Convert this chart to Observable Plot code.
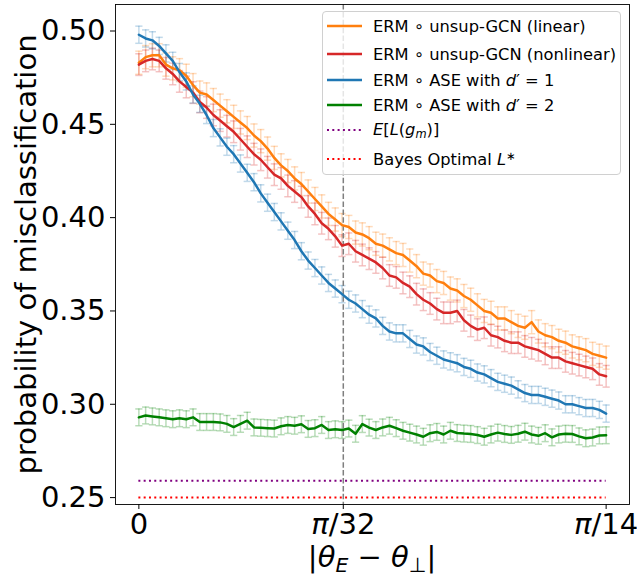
<!DOCTYPE html>
<html><head><meta charset="utf-8">
<script src="https://cdn.jsdelivr.net/npm/d3@7"></script>
<script src="https://cdn.jsdelivr.net/npm/@observablehq/plot@0.6"></script>
<style>
body{margin:0;background:#fff;font-family:"DejaVu Sans",sans-serif;}
#wrap{position:relative;width:637px;height:577px;}
#legend{position:absolute;left:322px;top:11px;width:299px;height:164px;box-sizing:border-box;border:1px solid #d0d0d0;border-radius:4px;background:rgba(255,255,255,0.8);font-size:16.3px;color:#000;}
.row{position:absolute;left:4px;height:20px;display:flex;align-items:center;white-space:nowrap;}
.row svg{margin-right:11px;}
#xlabel{position:absolute;left:0;width:637px;top:540px;font-size:29px;line-height:34px;color:#000;}
#xlabel span.c{position:absolute;left:372px;transform:translateX(-50%);white-space:nowrap;}
i{font-style:oblique;}
sub{font-size:0.7em;vertical-align:-0.25em;}
sup{font-size:0.7em;vertical-align:0.45em;}
</style>
</head><body>
<div id="wrap"><div id="chart"></div>
<div id="legend"></div>
<div id="xlabel"><span class="c">|<i>θ</i><sub><i>E</i></sub> − <i>θ</i><sub>⊥</sub>|</span></div>
</div>
<script>
const N = 70;
const xMax = Math.PI / 14;
const xTicks = [0, Math.PI / 32, Math.PI / 14];
const xTickLabels = ["0", "π/32", "π/14"];
const yTicks = [0.25, 0.30, 0.35, 0.40, 0.45, 0.50];
const vlineX = Math.PI / 32;

const orangeVals = [0.483,0.486,0.487,0.487,0.482,0.480,0.479,0.476,0.471,0.467,
0.466,0.463,0.460,0.457,0.454,0.451,0.448,0.444,0.441,0.437,
0.432,0.428,0.425,0.421,0.418,0.414,0.410,0.406,0.402,0.399,
0.396,0.395,0.392,0.391,0.389,0.386,0.385,0.383,0.381,0.380,
0.377,0.374,0.370,0.369,0.366,0.365,0.362,0.361,0.358,0.356,
0.353,0.350,0.349,0.346,0.346,0.344,0.342,0.341,0.344,0.339,
0.337,0.336,0.334,0.333,0.331,0.330,0.329,0.327,0.326,0.325];
const redVals = [0.482,0.484,0.485,0.484,0.480,0.477,0.473,0.470,0.467,0.462,
0.459,0.455,0.452,0.449,0.446,0.442,0.438,0.434,0.431,0.427,
0.423,0.421,0.417,0.414,0.411,0.406,0.402,0.397,0.394,0.390,
0.385,0.386,0.382,0.380,0.378,0.376,0.373,0.369,0.368,0.365,
0.363,0.359,0.356,0.354,0.351,0.349,0.349,0.350,0.345,0.342,
0.340,0.341,0.337,0.336,0.334,0.333,0.333,0.331,0.330,0.329,
0.327,0.325,0.325,0.323,0.322,0.321,0.320,0.319,0.316,0.315];
const blueVals = [0.498,0.496,0.495,0.492,0.488,0.484,0.478,0.473,0.466,0.461,
0.455,0.448,0.443,0.438,0.434,0.429,0.424,0.419,0.413,0.408,
0.403,0.398,0.393,0.388,0.382,0.377,0.373,0.369,0.365,0.362,
0.359,0.356,0.354,0.351,0.348,0.346,0.342,0.339,0.338,0.338,
0.335,0.332,0.331,0.328,0.326,0.324,0.323,0.322,0.320,0.319,
0.317,0.316,0.314,0.312,0.311,0.310,0.308,0.306,0.305,0.305,
0.304,0.303,0.302,0.300,0.300,0.299,0.298,0.298,0.297,0.295];
const greenVals = [0.2930,0.2940,0.2935,0.2930,0.2925,0.2920,0.2925,0.2920,0.2930,0.2905,
0.2905,0.2905,0.2903,0.2895,0.2878,0.2895,0.2912,0.2876,0.2874,0.2872,
0.2870,0.2882,0.2889,0.2885,0.2893,0.2868,0.2872,0.2889,0.2862,0.2866,
0.2862,0.2870,0.2842,0.2894,0.2875,0.2862,0.2876,0.2885,0.2872,0.2858,
0.2848,0.2838,0.2826,0.2845,0.2852,0.2838,0.2858,0.2846,0.2843,0.2841,
0.2835,0.2826,0.2838,0.2848,0.2841,0.2836,0.2842,0.2853,0.2838,0.2831,
0.2845,0.2823,0.2838,0.2842,0.2841,0.2828,0.2818,0.2822,0.2833,0.2834];

const seriesNames = ["linear", "nonlinear", "ase1", "ase2"];
const seriesColors = ["#ff7f0e", "#d62728", "#1f77b4", "#008000"];
const seriesErr = [0.0062, 0.0058, 0.0046, 0.0045];
const seriesVals = [orangeVals, redVals, blueVals, greenVals];

const hlineValues = [0.259, 0.25];
const hlineColors = ["purple", "red"];

const legendLabels = [
  "ERM ∘ unsup-GCN (linear)",
  "ERM ∘ unsup-GCN (nonlinear)",
  "ERM ∘ ASE with <i>d</i>′ = 1",
  "ERM ∘ ASE with <i>d</i>′ = 2",
  "<i>E</i>[<i>L</i>(<i>g</i><sub><i>m</i></sub>)]",
  "Bayes Optimal <i>L</i><sup>∗</sup>"
];
const legendStyles = ["solid","solid","solid","solid","dotted","dotted"];
const legendColors = [...seriesColors, ...hlineColors];
const legendTops = [4, 32, 58, 83, 108, 137];

const series = seriesNames.map((name, k) => ({
  name, color: seriesColors[k],
  rows: seriesVals[k].map((v, i) => ({x: i * xMax / (N - 1), y: v, lo: v - seriesErr[k], hi: v + seriesErr[k]}))
}));

const capSym = {draw(ctx, size) { const r = Math.sqrt(size / Math.PI); ctx.moveTo(-r, 0); ctx.lineTo(r, 0); }};

const marks = [];
for (const s of series) {
  marks.push(Plot.ruleX(s.rows, {x: "x", y1: "lo", y2: "hi", stroke: s.color, strokeOpacity: 0.28, strokeWidth: 1.5}));
  marks.push(Plot.dot(s.rows, {x: "x", y: "lo", symbol: capSym, r: 3.6, fill: "none", stroke: s.color, strokeOpacity: 0.28, strokeWidth: 1.5}));
  marks.push(Plot.dot(s.rows, {x: "x", y: "hi", symbol: capSym, r: 3.6, fill: "none", stroke: s.color, strokeOpacity: 0.28, strokeWidth: 1.5}));
}
marks.push(Plot.ruleX([vlineX], {stroke: "#7f7f7f", strokeWidth: 1.5, strokeDasharray: "5.5,2.4"}));
hlineValues.forEach((v, k) => marks.push(Plot.ruleY([v], {x1: 0, x2: xMax, stroke: hlineColors[k], strokeWidth: 2, strokeDasharray: "2,3.3"})));
for (const s of series) {
  marks.push(Plot.line(s.rows, {x: "x", y: "y", stroke: s.color, strokeWidth: 2.5}));
}
marks.push(Plot.axisY({ticks: yTicks, tickFormat: d3.format(".2f"), tickSize: 5, tickPadding: 5, fontSize: 29,
  label: "probability of misclassification", labelAnchor: "center", labelArrow: "none", labelOffset: 100}));
marks.push(Plot.axisX({ticks: xTicks, tickFormat: (d, i) => xTickLabels[i], tickSize: 5, tickPadding: 4, fontSize: 29, label: null}));
marks.push(Plot.frame({stroke: "#000", strokeWidth: 0.9}));

const chart = Plot.plot({
  width: 637, height: 577,
  marginLeft: 115, marginRight: 8, marginTop: 4, marginBottom: 73,
  style: {fontFamily: "DejaVu Sans", fontSize: "29px", color: "#000", background: "#fff"},
  x: {domain: [-0.01122, 0.23562]},
  y: {domain: [0.2463, 0.5142]},
  marks
});
document.getElementById("chart").appendChild(chart);

// italic π in x tick labels (mathtext style)
d3.select(chart).selectAll('g[aria-label="x-axis tick label"] text').each(function() {
  const t = this.textContent;
  if (t.startsWith("π")) {
    this.textContent = "";
    d3.select(this).append("tspan").attr("font-style", "oblique").text("π");
    d3.select(this).append("tspan").text(t.slice(1));
  }
});

const leg = document.getElementById("legend");
legendLabels.forEach((lab, k) => {
  const row = document.createElement("div");
  row.className = "row";
  row.style.top = legendTops[k] + "px";
  const dash = legendStyles[k] === "dotted" ? 'stroke-dasharray="2,3.3"' : "";
  const sw = legendStyles[k] === "dotted" ? 2 : 2.5;
  row.innerHTML = `<svg width="35" height="10"><line x1="0" x2="35" y1="5" y2="5" stroke="${legendColors[k]}" stroke-width="${sw}" ${dash}/></svg><span>${lab}</span>`;
  leg.appendChild(row);
});
</script>
</body></html>
